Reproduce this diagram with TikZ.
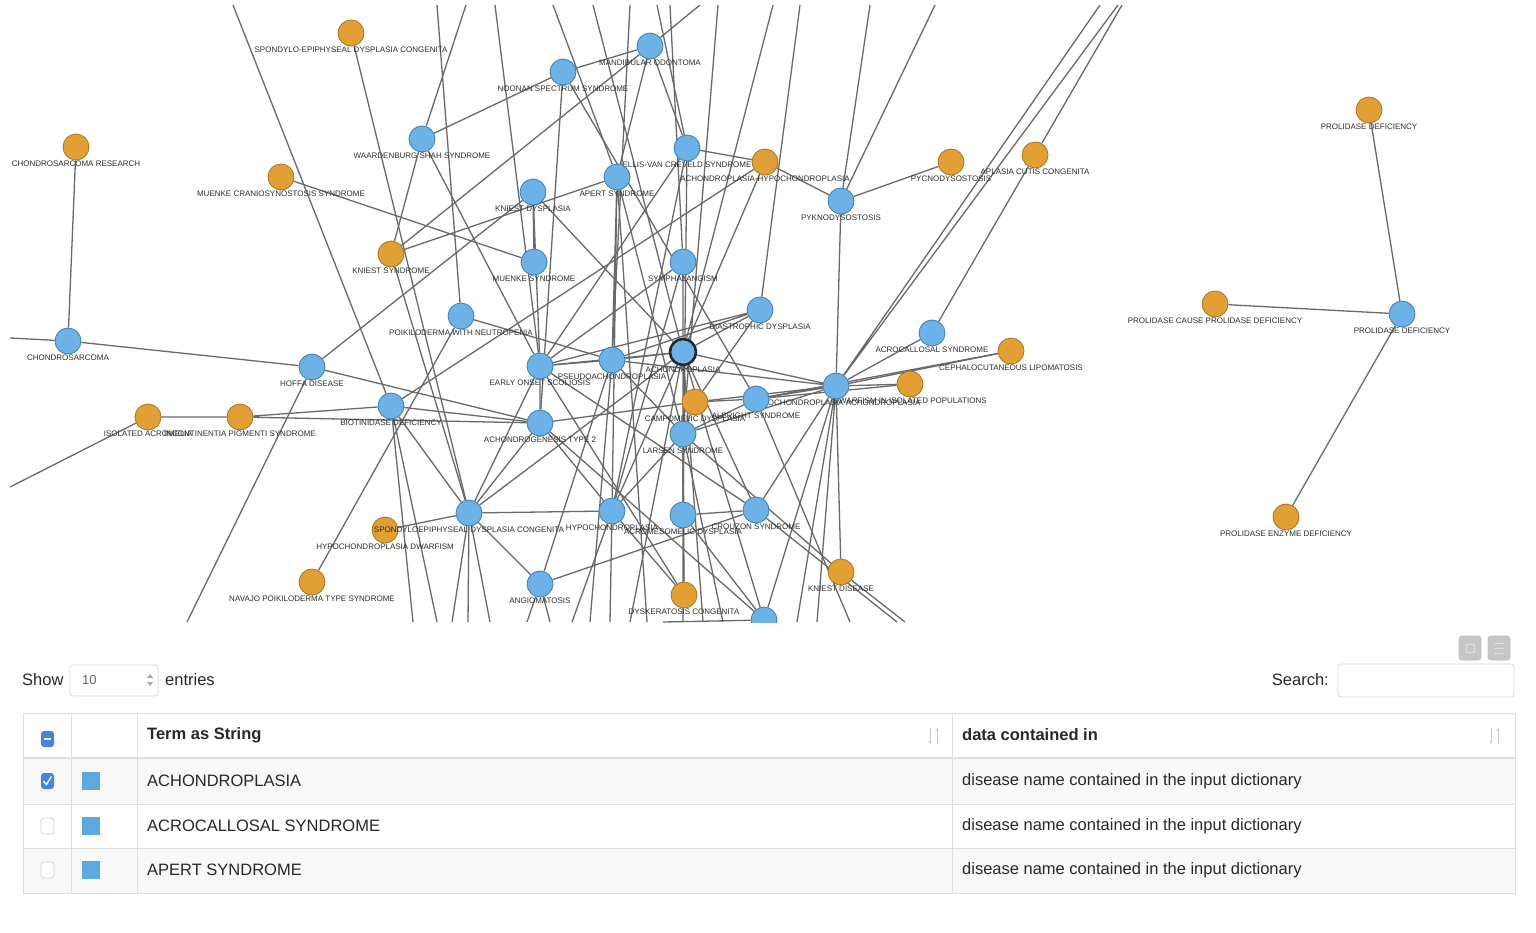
\documentclass[tikz,border=0pt]{standalone}
\usepackage{fontspec}
\setmainfont{Liberation Sans}
\usetikzlibrary{positioning}
\usetikzlibrary{backgrounds}
\usetikzlibrary{arrows.meta}

\definecolor{diseaseorange}{RGB}{226,160,52}
\definecolor{diseaseedge}{RGB}{168,114,32}
\definecolor{termblue}{RGB}{108,178,230}
\definecolor{termedge}{RGB}{60,126,176}
\definecolor{achonedge}{RGB}{28,40,52}
\definecolor{linkgray}{RGB}{105,105,105}
\definecolor{labelgray}{RGB}{45,45,45}
\definecolor{rulegray}{RGB}{222,222,222}
\definecolor{stripe}{RGB}{248,248,248}
\definecolor{checkblue}{RGB}{66,133,230}
\definecolor{squareblue}{RGB}{92,168,224}
\definecolor{sortgray}{RGB}{200,200,200}
\definecolor{tabletext}{RGB}{40,40,40}

\begin{document}
\begin{tikzpicture}[x=1pt,y=-1pt]
  \tikzstyle{disease}=[circle, draw=diseaseedge, fill=diseaseorange, line width=0.8pt, minimum size=26pt, inner sep=0pt]
  \tikzstyle{term}=[circle, draw=termedge, fill=termblue, line width=0.8pt, minimum size=26pt, inner sep=0pt]
  \tikzstyle{lbl}=[font=\fontsize{8}{9}\selectfont, text=labelgray, inner sep=0.5pt]
  \tikzstyle{link}=[draw=linkgray, line width=1.3pt]
  \tikzstyle{celltext}=[font=\fontsize{16.5}{19}\selectfont, text=tabletext, anchor=west, inner sep=0pt]
  \tikzstyle{headtext}=[font=\fontsize{16.5}{19}\selectfont\bfseries, text=tabletext, anchor=west, inner sep=0pt]
  \tikzstyle{inputbox}=[draw=gray!30, fill=white, rounded corners=3pt, line width=0.8pt]

  \useasboundingbox (0,0) rectangle (1536,932);

  \begin{scope}
  \clip (10,5) rectangle (1536,622);
  \node[disease,label={[lbl]below:SPONDYLO-EPIPHYSEAL DYSPLASIA CONGENITA}] (spondylo) at (351,33) {};
  \node[disease,label={[lbl]below:CHONDROSARCOMA RESEARCH}]   (chres)    at (76,147)  {};
  \node[disease,label={[lbl]below:MUENKE CRANIOSYNOSTOSIS SYNDROME}] (mcs) at (281,177) {};
  \node[disease,label={[lbl]below:KNIEST SYNDROME}]           (kniestsy) at (391,254) {};
  \node[disease,label={[lbl]below:ACHONDROPLASIA-HYPOCHONDROPLASIA}] (achhypo) at (765,162) {};
  \node[disease,label={[lbl]below:PYCNODYSOSTOSIS}]           (pycno)    at (951,162) {};
  \node[disease,label={[lbl]below:APLASIA CUTIS CONGENITA}]   (aplasia)  at (1035,155) {};
  \node[disease,label={[lbl]below:PROLIDASE DEFICIENCY}]      (prolA)    at (1369,110) {};
  \node[disease,label={[lbl]below:PROLIDASE CAUSE PROLIDASE DEFICIENCY}] (prolB) at (1215,304) {};
  \node[disease,label={[lbl]below:PROLIDASE ENZYME DEFICIENCY}] (prolC)  at (1286,517) {};
  \node[disease,label={[lbl]below:CEPHALOCUTANEOUS LIPOMATOSIS}] (lipom) at (1011,351) {};
  \node[disease,label={[lbl]below:DWARFISM IN ISOLATED POPULATIONS}] (isopop) at (910,384) {};
  \node[disease,label={[lbl]below:CAMPOMELIC DYSPLASIA}]      (campo)    at (695,402) {};
  \node[disease,label={[lbl]below:ISOLATED ACROMELIA}]        (acromel)  at (148,417) {};
  \node[disease,label={[lbl]below:INCONTINENTIA PIGMENTI SYNDROME}] (incont) at (240,417) {};
  \node[disease,label={[lbl]below:HYPOCHONDROPLASIA DWARFISM}] (hypodw)  at (385,530) {};
  \node[disease,label={[lbl]below:NAVAJO POIKILODERMA TYPE SYNDROME}] (navajo) at (312,582) {};
  \node[disease,label={[lbl]below:DYSKERATOSIS CONGENITA}]    (dysker)   at (684,595) {};
  \node[disease,label={[lbl]below:KNIEST DISEASE}]            (kniestd)  at (841,572) {};

  \node[term,label={[lbl]below:MANDIBULAR ODONTOMA}]          (odontoma) at (650,46)  {};
  \node[term,label={[lbl]below:NOONAN SPECTRUM SYNDROME}]     (noonan)   at (563,72)  {};
  \node[term,label={[lbl]below:WAARDENBURG SHAH SYNDROME}]    (waard)    at (422,139) {};
  \node[term,label={[lbl]below:ELLIS-VAN CREVELD SYNDROME}]   (ellis)    at (687,148) {};
  \node[term,label={[lbl]below:KNIEST DYSPLASIA}]             (kniestdys) at (533,192) {};
  \node[term,label={[lbl]below:APERT SYNDROME}]               (apert)    at (617,177) {};
  \node[term,label={[lbl]below:PYKNODYSOSTOSIS}]              (pykno)    at (841,201) {};
  \node[term,label={[lbl]below:MUENKE SYNDROME}]              (muenke)   at (534,262) {};
  \node[term,label={[lbl]below:SYMPHALANGISM}]                (symph)    at (683,262) {};
  \node[term,label={[lbl]below:DIASTROPHIC DYSPLASIA}]        (diastro)  at (760,310) {};
  \node[term,label={[lbl]below:POIKILODERMA WITH NEUTROPENIA}] (poik)    at (461,316) {};
  \node[term,label={[lbl]below:CHONDROSARCOMA}]               (chondro)  at (68,341)  {};
  \node[term,label={[lbl]below:HOFFA DISEASE}]                (hoffa)    at (312,367) {};
  \node[term,label={[lbl]below:ACROCALLOSAL SYNDROME}]        (acrocall) at (932,333) {};
  \node[term,label={[lbl]below:PSEUDOACHONDROPLASIA}]         (pseudo)   at (612,360) {};
  \node[term,label={[lbl]below:EARLY ONSET SCOLIOSIS}]        (early)    at (540,366) {};
  \node[term,draw=achonedge,line width=2.6pt,label={[lbl]below:ACHONDROPLASIA}] (achon) at (683,352) {};
  \node[term,label={[lbl]below:HYPOCHONDROPLASIA ACHONDROPLASIA}] (hub)  at (836,386) {};
  \node[term,label={[lbl]below:ALBRIGHT SYNDROME}]            (albright) at (756,399) {};
  \node[term,label={[lbl]below:BIOTINIDASE DEFICIENCY}]       (biotin)   at (391,406) {};
  \node[term,label={[lbl]below:ACHONDROGENESIS TYPE 2}]       (achgen)   at (540,423) {};
  \node[term,label={[lbl]below:LARSEN SYNDROME}]              (larsen)   at (683,434) {};
  \node[term,label={[lbl]below:SPONDYLOEPIPHYSEAL DYSPLASIA CONGENITA}] (sedc) at (469,513) {};
  \node[term,label={[lbl]below:HYPOCHONDROPLASIA}]            (hypoch)   at (612,511) {};
  \node[term,label={[lbl]below:ACROMESOMELIC DYSPLASIA}]      (acromeso) at (683,515) {};
  \node[term,label={[lbl]below:CROUZON SYNDROME}]             (crouzon)  at (756,510) {};
  \node[term,label={[lbl]below:ANGIOMATOSIS}]                 (angio)    at (540,584) {};
  \node[term]                                                 (lowerB)   at (764,620) {};
  \node[term,label={[lbl]below:PROLIDASE DEFICIENCY}]         (prolD)    at (1402,314) {};
  \end{scope}

  \coordinate (t1) at (233,5);   \coordinate (t2) at (437,5);   \coordinate (t3) at (466,5);
  \coordinate (t4) at (495,5);   \coordinate (t5) at (553,5);   \coordinate (t6) at (593,5);
  \coordinate (t7) at (630,5);   \coordinate (t8) at (657,5);   \coordinate (t9) at (670,5);
  \coordinate (t10) at (700,5);  \coordinate (t11) at (718,5);  \coordinate (t12) at (773,5);
  \coordinate (t13) at (800,5);  \coordinate (t14) at (870,5);  \coordinate (t15) at (935,5);
  \coordinate (t16) at (1100,5); \coordinate (t17) at (1118,5); \coordinate (t18) at (1122,5);
  \coordinate (u1) at (187,622); \coordinate (u2) at (413,622); \coordinate (u3) at (437,622);
  \coordinate (u4) at (452,622); \coordinate (u5) at (468,622); \coordinate (u6) at (490,622);
  \coordinate (u7) at (527,622); \coordinate (u8) at (550,622); \coordinate (u9) at (572,622);
  \coordinate (u10) at (590,622); \coordinate (u11) at (610,622); \coordinate (u12) at (630,622);
  \coordinate (u13) at (647,622); \coordinate (u14) at (663,622); \coordinate (u15) at (683,622);
  \coordinate (u16) at (703,622); \coordinate (u17) at (723,622); \coordinate (u18) at (797,622);
  \coordinate (u19) at (817,622); \coordinate (u20) at (850,622); \coordinate (u21) at (897,622);
  \coordinate (u22) at (905,622);
  \coordinate (l1) at (10,338);  \coordinate (l2) at (10,487);

  \begin{scope}[on background layer]
  \fill[white] (0,0) rectangle (1536,932);
  \clip (10,5) rectangle (1536,622);
  \path[link] (chondro) -- (chres) (chondro) -- (l1) (chondro) -- (hoffa);
  \path[link] (hoffa) -- (kniestdys) (hoffa) -- (u1) (hoffa) -- (achgen);
  \path[link] (acromel) -- (l2) (acromel) -- (incont) (incont) -- (biotin) (incont) -- (achgen);
  \path[link] (mcs) -- (muenke) (spondylo) -- (sedc);
  \path[link] (kniestsy) -- (waard) (kniestsy) -- (odontoma) (kniestsy) -- (sedc) (kniestsy) -- (apert);
  \path[link] (poik) -- (t2) (poik) -- (navajo) (poik) -- (pseudo);
  \path[link] (biotin) -- (t1) (biotin) -- (sedc) (biotin) -- (achhypo) (biotin) -- (u2) (biotin) -- (u3) (biotin) -- (achgen);
  \path[link] (waard) -- (t3) (waard) -- (noonan) (waard) -- (early);
  \path[link] (noonan) -- (odontoma) (noonan) -- (achgen) (noonan) -- (albright);
  \path[link] (odontoma) -- (t10) (odontoma) -- (apert) (odontoma) -- (ellis);
  \path[link] (ellis) -- (achhypo) (ellis) -- (t8) (ellis) -- (acromeso) (ellis) -- (early) (ellis) -- (hypoch);
  \path[link] (apert) -- (t5) (apert) -- (pseudo) (apert) -- (larsen) (apert) -- (hypoch) (apert) -- (u13);
  \path[link] (kniestdys) -- (achon) (kniestdys) -- (early) (kniestdys) -- (muenke);
  \path[link] (t4) -- (early) (t6) -- (achon) (t7) -- (pseudo) (t9) -- (symph) (t11) -- (larsen) (t12) -- (achon) (t13) -- (diastro);
  \path[link] (achhypo) -- (pykno) (achhypo) -- (achon);
  \path[link] (pykno) -- (pycno) (pykno) -- (t14) (pykno) -- (t15) (pykno) -- (hub);
  \path[link] (aplasia) -- (acrocall) (aplasia) -- (t18) (t16) -- (hub) (t17) -- (hub);
  \path[link] (hub) -- (acrocall) (hub) -- (lipom) (hub) -- (isopop) (hub) -- (albright) (hub) -- (achon) (hub) -- (kniestd)
              (hub) -- (lowerB) (hub) -- (u18) (hub) -- (u19) (hub) -- (crouzon) (hub) -- (larsen) (hub) -- (campo) (hub) -- (pseudo);
  \path[link] (lipom) -- (albright) (isopop) -- (albright);
  \path[link] (achon) -- (pseudo) (achon) -- (larsen) (achon) -- (acromeso) (achon) -- (dysker) (achon) -- (lowerB) (achon) -- (crouzon)
              (achon) -- (hypoch) (achon) -- (sedc) (achon) -- (symph) (achon) -- (diastro) (achon) -- (early) (achon) -- (u12) (achon) -- (u16);
  \path[link] (symph) -- (early) (symph) -- (hypoch);
  \path[link] (diastro) -- (early) (diastro) -- (pseudo) (diastro) -- (campo);
  \path[link] (pseudo) -- (early) (pseudo) -- (larsen) (pseudo) -- (angio) (pseudo) -- (u10);
  \path[link] (early) -- (achgen) (early) -- (sedc) (early) -- (dysker) (early) -- (crouzon);
  \path[link] (albright) -- (campo) (albright) -- (larsen) (albright) -- (u20) (campo) -- (larsen) (campo) -- (achgen);
  \path[link] (larsen) -- (acromeso) (larsen) -- (hypoch) (larsen) -- (kniestd) (larsen) -- (u17);
  \path[link] (sedc) -- (hypoch) (sedc) -- (hypodw) (sedc) -- (angio) (sedc) -- (u4) (sedc) -- (u5) (sedc) -- (u6) (sedc) -- (achgen);
  \path[link] (hypoch) -- (u11) (hypoch) -- (u9) (hypoch) -- (dysker) (hypoch) -- (achgen);
  \path[link] (acromeso) -- (crouzon) (acromeso) -- (lowerB) (acromeso) -- (u15) (dysker) -- (acromeso);
  \path[link] (crouzon) -- (angio) (crouzon) -- (u21) (kniestd) -- (u22);
  \path[link] (angio) -- (u7) (angio) -- (u8) (lowerB) -- (achgen) (lowerB) -- (u14);
  \path[link] (prolD) -- (prolA) (prolD) -- (prolB) (prolD) -- (prolC);
  \end{scope}

  \node[inputbox, minimum width=22pt, minimum height=24pt, fill=gray!45, draw=gray!50] (gridicon) at (1470,648) {};
  \node[inputbox, minimum width=22pt, minimum height=24pt, fill=gray!45, draw=gray!50] (listicon) at (1499,648) {};
  \draw[gray!25, line width=0.8pt] (1466,644) rectangle (1474,652);
  \draw[gray!25, line width=1pt] (1494,643) -- (1504,643) (1494,648) -- (1504,648) (1494,653) -- (1504,653);

  \node[celltext] (showlbl) at (22,680) {Show};
  \draw[inputbox] (70,665) rectangle (158,696);
  \node[celltext, font=\fontsize{13}{15}\selectfont, text=gray!80!black] (pagelen) at (82,680) {10};
  \fill[gray!70] (147,678) -- (153,678) -- (150,674) -- cycle;
  \fill[gray!70] (147,682) -- (153,682) -- (150,686) -- cycle;
  \node[celltext] (entrieslbl) at (165,680) {entries};
  \node[celltext, anchor=east] (searchlbl) at (1329,680) {Search:};
  \draw[inputbox] (1338,664) rectangle (1514,697);

  \fill[stripe] (23,758) rectangle (1515,804);
  \fill[stripe] (23,848) rectangle (1515,893);
  \draw[rulegray, line width=0.8pt] (23,713) rectangle (1515,893);
  \draw[rulegray, line width=0.8pt] (23,804) -- (1515,804) (23,848) -- (1515,848);
  \draw[rulegray, line width=2.2pt] (23,758) -- (1515,758);
  \draw[rulegray, line width=0.8pt] (71,713) -- (71,893) (137,713) -- (137,893) (952,713) -- (952,893);

  \fill[checkblue, rounded corners=3pt] (41,731) rectangle (54,747);
  \draw[white, line width=1.4pt] (44,739) -- (51,739);
  \fill[checkblue, rounded corners=3pt] (41,773) rectangle (54,789);
  \draw[white, line width=1.3pt] (43.5,781) -- (46.5,784.5) -- (51.5,776.5);
  \draw[gray!35, fill=white, rounded corners=3pt, line width=0.7pt] (41,818) rectangle (54,834);
  \draw[gray!35, fill=white, rounded corners=3pt, line width=0.7pt] (41,862) rectangle (54,878);
  \fill[squareblue] (82,772) rectangle (100,790);
  \fill[squareblue] (82,817) rectangle (100,835);
  \fill[squareblue] (82,861) rectangle (100,879);

  \node[headtext] (termhead) at (147,735) {Term as String};
  \node[headtext] (datahead) at (962,735) {data contained in};
  \draw[sortgray, line width=1pt, -{Stealth[length=3pt,width=3.5pt]}] (930,728) -- (930,744);
  \draw[sortgray, line width=1pt, -{Stealth[length=3pt,width=3.5pt]}] (937,744) -- (937,728);
  \draw[sortgray, line width=1pt, -{Stealth[length=3pt,width=3.5pt]}] (1491,728) -- (1491,744);
  \draw[sortgray, line width=1pt, -{Stealth[length=3pt,width=3.5pt]}] (1498,744) -- (1498,728);

  \node[celltext] (termA) at (147,781) {ACHONDROPLASIA};
  \node[celltext] (termB) at (147,826) {ACROCALLOSAL SYNDROME};
  \node[celltext] (termC) at (147,870) {APERT SYNDROME};
  \node[celltext] (dataA) at (962,781) {disease name contained in the input dictionary};
  \node[celltext] (dataB) at (962,826) {disease name contained in the input dictionary};
  \node[celltext] (dataC) at (962,870) {disease name contained in the input dictionary};
\end{tikzpicture}
\end{document}
